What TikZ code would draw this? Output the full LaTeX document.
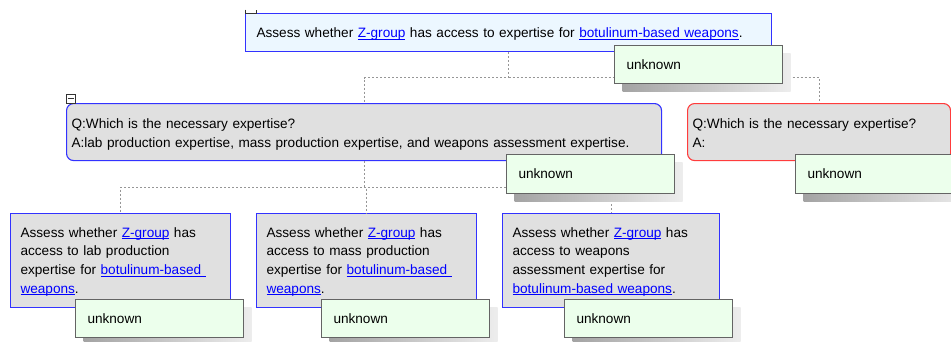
\documentclass[tikz,border=0pt]{standalone}
\usepackage{fontspec}
\setmainfont{Liberation Sans}
\usetikzlibrary{shadows}

\definecolor{linkblue}{RGB}{0,0,255}
\definecolor{boxblue}{RGB}{50,50,255}
\definecolor{boxred}{RGB}{255,60,60}
\definecolor{paleblue}{RGB}{236,247,255}
\definecolor{nodegray}{RGB}{224,224,224}
\definecolor{palegreen}{RGB}{236,255,236}
\definecolor{edgegray}{RGB}{100,100,100}
\definecolor{dotgray}{RGB}{150,150,150}

% hyperlink-style text: blue with a thin underline just below the baseline
\newcommand\lnk[1]{\textcolor{linkblue}{\setbox0\hbox{#1}\rlap{\rule[-2.2pt]{\wd0}{0.9pt}}\box0}}

\tikzset{
  txt/.style={font=\fontsize{13.6pt}{18.7pt}\selectfont, align=left, anchor=north west, inner ysep=0pt},
  treebox/.style={txt, line width=1.1pt, text height=10pt},
  goalbox/.style={treebox, draw=boxblue, fill=paleblue, inner xsep=11pt, text depth=-2pt},
  qbox/.style={treebox, draw=boxblue, fill=nodegray, rounded corners=7pt, inner xsep=5pt,
               text depth=16.6pt},
  qboxred/.style={qbox, draw=boxred},
  taskbox/.style={treebox, draw=boxblue, fill=nodegray, inner xsep=10pt,
                  text width=200pt, minimum height=94pt, text depth=57pt},
  status/.style={txt, draw=edgegray, fill=palegreen, line width=1pt, inner xsep=12pt,
                 text width=144pt, minimum height=38pt,
                 general shadow={shadow xshift=8pt, shadow yshift=-8pt,
                                 left color=black!36, right color=black!7}},
  conn/.style={draw=dotgray, line width=0.9pt, dash pattern=on 2pt off 2pt},
}

\begin{document}
\begin{tikzpicture}[x=1pt, y=-1pt]
\useasboundingbox (0,0) rectangle (951,341);
\clip (0,0) rectangle (951,341);

% tree nodes
\node[goalbox, text width=504pt, minimum height=38pt] (goal) at (245,13)
  {Assess whether \lnk{Z-group} has access to expertise for \lnk{botulinum-based weapons}.};

\node[qbox, text width=585pt, minimum height=57pt] (q1) at (66,103)
  {Q:Which is the necessary expertise?\\
   A:lab production expertise, mass production expertise, and weapons assessment expertise.};

\node[qboxred, text width=253pt, minimum height=57pt] (q2) at (687,103)
  {Q:Which is the necessary expertise?\\
   A:};

\node[taskbox] (t1) at (10,213)
  {Assess whether \lnk{Z-group} has\\
   access to lab production\\
   expertise for \lnk{botulinum-based\ }\\
   \lnk{weapons}.};
\node[taskbox] (t2) at (256,213)
  {Assess whether \lnk{Z-group} has\\
   access to mass production\\
   expertise for \lnk{botulinum-based\ }\\
   \lnk{weapons}.};
\node[taskbox, text width=197pt] (t3) at (502,213)
  {Assess whether \lnk{Z-group} has\\
   access to weapons\\
   assessment expertise for\\
   \lnk{botulinum-based weapons}.};

% dotted tree connectors
\coordinate (bar1) at (0,77.5);
\coordinate (bar2) at (0,187);
\draw[conn] (goal.south) -- (goal.south |- bar1) -| (q1.north);
\draw[conn] (goal.south |- bar1) -| (q2.north);
\draw[conn] (q1.south) -- (q1.south |- bar2) -| (t1.north);
\draw[conn] (q1.south |- bar2) -| (t2.north);
\draw[conn] (q1.south |- bar2) -| (t3.north);

% expand / collapse markers
\draw[black!80, line width=0.8pt] (245,9.5) -- (245,13) -- (256,13) -- (256,9.5);
\draw[black!80, line width=0.8pt, fill=white] (66,94) rectangle (75.5,103);
\draw[black!80, line width=0.8pt] (68,98.5) -- (73.5,98.5);

% status labels
\node[status] (s0) at (614,45) {unknown};
\node[status, minimum height=39pt] (s1) at (506,154) {unknown};
\node[status, minimum height=39pt] (s2) at (795,154) {unknown};
\node[status] (s3) at (75,299) {unknown};
\node[status] (s4) at (321,299) {unknown};
\node[status] (s5) at (564,299) {unknown};
\end{tikzpicture}
\end{document}
